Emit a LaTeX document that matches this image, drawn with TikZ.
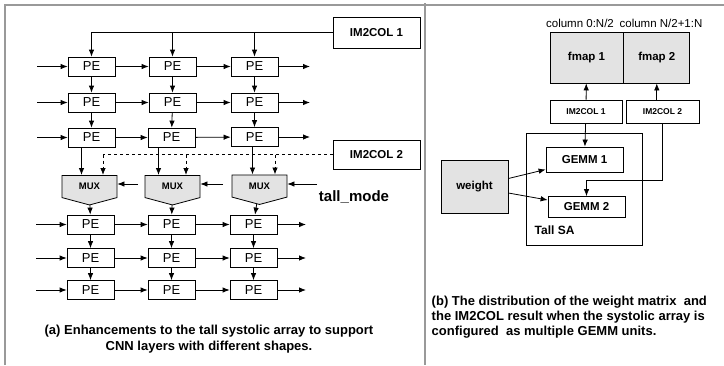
\documentclass[tikz,border=0pt]{standalone}
\usepackage{fontspec}
\setmainfont{Liberation Sans}
\usetikzlibrary{arrows.meta,shapes.symbols,positioning}

\tikzset{
  frame/.style={draw=gray!80,line width=1.2pt},
  shade/.style={fill=gray!22},
}

\begin{document}
\begin{tikzpicture}[x=1pt,y=-1pt,line width=0.8pt,>={Latex[length=7pt,width=5.5pt]}]

        \useasboundingbox (0,0) rectangle (724,365);
        \draw[frame] (5,365) -- (5,5) -- (724,5);
        \draw[frame] (425,3) -- (425,365);

        \begin{scope}[every node/.style={draw,minimum width=47pt,minimum height=19pt,inner sep=0pt,font=\fontsize{13}{13}\selectfont}]
          \node (pe11) at (91.5,66.5)  {PE};
          \node (pe12) at (172.5,66.5) {PE};
          \node (pe13) at (254.5,66.5) {PE};
          \node (pe21) at (91.5,102.5)  {PE};
          \node (pe22) at (172.5,102.5) {PE};
          \node (pe23) at (254.5,102.5) {PE};
          \node (pe31) at (91.5,137.5)  {PE};
          \node (pe32) at (171.5,137.5) {PE};
          \node (pe33) at (254.5,137)   {PE};
          \node (pe41) at (90.5,224.5)  {PE};
          \node (pe42) at (171.5,224.5) {PE};
          \node (pe43) at (253.5,224.5) {PE};
          \node (pe51) at (90.5,258)  {PE};
          \node (pe52) at (171.5,258) {PE};
          \node (pe53) at (253.5,258) {PE};
          \node (pe61) at (90.5,290)  {PE};
          \node (pe62) at (171.5,290) {PE};
          \node (pe63) at (253.5,290) {PE};
        \end{scope}

        \begin{scope}[every node/.style={draw,minimum width=87pt,inner sep=0pt,font=\bfseries\fontsize{11.5}{11.5}\selectfont}]
          \node[minimum height=31pt] (im2col1) at (376.5,32.5) {IM2COL 1};
          \node[minimum height=29pt] (im2col2) at (376.5,154.5) {IM2COL 2};
        \end{scope}

        \begin{scope}[every node/.style={shape=signal,signal to=south,signal pointer angle=150,draw,shade,minimum width=55pt,minimum height=25pt,inner sep=0pt,font=\bfseries\fontsize{9.5}{9.5}\selectfont}]
          \node (mux1) at (89.5,186.5)  {MUX};
          \node (mux2) at (172.5,186.5) {MUX};
          \node (mux3) at (259.5,186)   {MUX};
        \end{scope}

        \node[font=\bfseries\fontsize{15}{15}\selectfont] (tallmode) at (354,197) {tall\_mode};

        \coordinate (in1) at (37,66.5);
        \coordinate (in2) at (37,102.5);
        \coordinate (in3) at (37,137.5);
        \coordinate (in4) at (36,224.5);
        \coordinate (in5) at (36,258);
        \coordinate (in6) at (36,290);
        \coordinate (out1) at (310,66.5);
        \coordinate (out2) at (310,102.5);
        \coordinate (out3) at (310,137);
        \coordinate (out4) at (306,224.5);
        \coordinate (out5) at (306,258);
        \coordinate (out6) at (306,290);
        \coordinate (sel1) at (138,184);
        \coordinate (sel2) at (223,184);
        \coordinate (sel3) at (317,184);
        \coordinate (dash1) at (103,154.5);
        \coordinate (dash2) at (186,154.5);
        \coordinate (dash3) at (275,154.5);

        \begin{scope}[every edge/.style={draw,->}]
          \path (in1)  edge (pe11);
          \path (pe11) edge (pe12);
          \path (pe12) edge (pe13);
          \path (pe13) edge (out1);
          \path (in2)  edge (pe21);
          \path (pe21) edge (pe22);
          \path (pe22) edge (pe23);
          \path (pe23) edge (out2);
          \path (in3)  edge (pe31);
          \path (pe31) edge (pe32);
          \path (pe32) edge (pe33);
          \path (pe33) edge (out3);
          \path (in4)  edge (pe41);
          \path (pe41) edge (pe42);
          \path (pe42) edge (pe43);
          \path (pe43) edge (out4);
          \path (in5)  edge (pe51);
          \path (pe51) edge (pe52);
          \path (pe52) edge (pe53);
          \path (pe53) edge (out5);
          \path (in6)  edge (pe61);
          \path (pe61) edge (pe62);
          \path (pe62) edge (pe63);
          \path (pe63) edge (out6);
          \path (pe11) edge (pe21);
          \path (pe12) edge (pe22);
          \path (pe13) edge (pe23);
          \path (pe21) edge (pe31);
          \path (pe22) edge (pe32);
          \path (pe23) edge (pe33);
          \path (pe41) edge (pe51);
          \path (pe42) edge (pe52);
          \path (pe43) edge (pe53);
          \path (pe51) edge (pe61);
          \path (pe52) edge (pe62);
          \path (pe53) edge (pe63);
          \path (mux1) edge (pe41);
          \path (mux2) edge (pe42);
          \path (mux3) edge (pe43);
          \path (sel1) edge (sel1 -| mux1.east);
          \path (sel2) edge (sel2 -| mux2.east);
          \path (sel3) edge (sel3 -| mux3.east);
          \path ([xshift=-10pt]pe31.south) edge ([xshift=-10pt]pe31.south |- mux1.north);
          \path ([xshift=-13pt]pe32.south) edge ([xshift=-13pt]pe32.south |- mux2.north);
          \path ([xshift=-2pt]pe33.south)  edge ([xshift=-2pt]pe33.south |- mux3.north);
          \path (pe12 |- im2col1.west) edge (pe12);
          \path (pe13 |- im2col1.west) edge (pe13);
        \end{scope}

        \draw[->] (im2col1.west) -| (pe11);
        \draw[dashed] (im2col2.west) -- (dash1);
        \draw[dashed,->] (dash1) -- (dash1 |- mux1.north);
        \draw[dashed,->] (dash2) -- (dash2 |- mux2.north);
        \draw[dashed,->] (dash3) -- (dash3 |- mux3.north);

        \node[align=center,font=\bfseries\fontsize{13}{16}\selectfont] (capa) at (209,339)
          {(a) Enhancements to the tall systolic array to support\\CNN layers with different shapes.};

        \begin{scope}[every node/.style={draw,shade,minimum height=51pt,inner sep=0pt,font=\bfseries\fontsize{11.5}{11.5}\selectfont}]
          \node[minimum width=73pt] (fmap1) at (586.5,57.5) {fmap 1};
          \node[minimum width=66pt,right=0pt of fmap1] (fmap2) {fmap 2};
        \end{scope}
        \node[font=\fontsize{11.5}{11.5}\selectfont] (col1) at (580,23) {column 0:N/2};
        \node[font=\fontsize{11.5}{11.5}\selectfont] (col2) at (661,23) {column N/2+1:N};

        \begin{scope}[every node/.style={draw,minimum height=23pt,inner sep=0pt,font=\bfseries\fontsize{8.5}{8.5}\selectfont}]
          \node[minimum width=72pt] (im2colr1) at (586,111.5) {IM2COL 1};
          \node[minimum width=73pt] (im2colr2) at (662.5,111.5) {IM2COL 2};
        \end{scope}

        \node[draw,minimum width=116pt,minimum height=112pt] (tallsa) at (584,189) {};
        \node[anchor=west,font=\bfseries\fontsize{12}{12}\selectfont] (talllbl) at (531,230) {Tall SA};

        \begin{scope}[every node/.style={draw,fill=white,minimum width=77pt,inner sep=0pt,font=\bfseries\fontsize{11.5}{11.5}\selectfont}]
          \node[minimum height=25pt] (gemm1) at (584.5,159.5) {GEMM 1};
          \node[minimum height=21pt] (gemm2) at (586.5,207) {GEMM 2};
        \end{scope}
        \node[draw,shade,minimum width=67pt,minimum height=53pt,inner sep=0pt,font=\bfseries\fontsize{11.5}{11.5}\selectfont] (weight) at (474.5,186.5) {weight};

        \begin{scope}[every edge/.style={draw,->}]
          \path (im2colr1) edge (fmap1);
          \path (fmap2.south |- im2colr2.north) edge (fmap2.south);
          \path (im2colr1) edge (gemm1);
          \path ([yshift=8pt]weight.east) edge ([yshift=-10pt]gemm1.west);
          \path ([yshift=-6.5pt]weight.east) edge ([yshift=7pt]gemm2.west);
        \end{scope}
        \draw[->] (im2colr2.south) -- ++(0,57) -| (gemm2.north);

        \node[anchor=north west,align=left,font=\bfseries\fontsize{13}{15}\selectfont] (capb) at (428,292)
          {(b) The distribution of the weight matrix~ and\\the IM2COL result when the systolic array is\\configured~ as multiple GEMM units.};

      \end{tikzpicture}
\end{document}
